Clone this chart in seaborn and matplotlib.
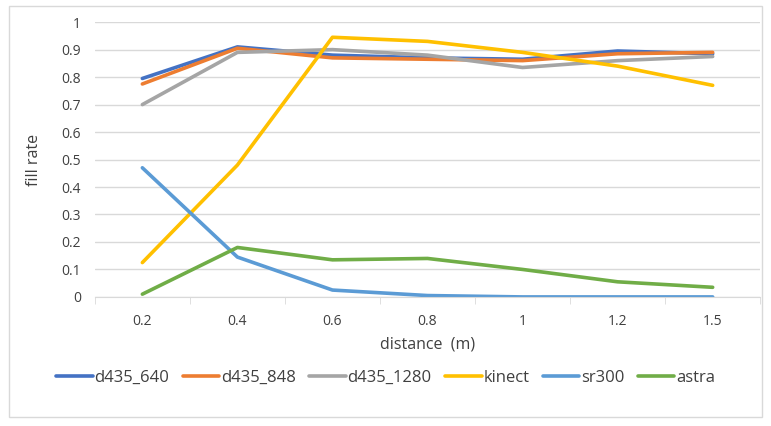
import numpy as np
import pandas as pd
import seaborn as sns
import matplotlib.pyplot as plt
from matplotlib.ticker import FixedLocator

distance = ['0.2', '0.4', '0.6', '0.8', '1', '1.2', '1.5']
d435_640 = [0.795, 0.91, 0.88, 0.87, 0.865, 0.895, 0.885]
d435_848 = [0.775, 0.905, 0.87, 0.865, 0.86, 0.885, 0.89]
d435_1280 = [0.70, 0.89, 0.90, 0.88, 0.835, 0.86, 0.875]
kinect = [0.125, 0.48, 0.945, 0.93, 0.89, 0.84, 0.77]
sr300 = [0.47, 0.145, 0.025, 0.005, 0.0, 0.0, 0.0]
astra = [0.01, 0.18, 0.135, 0.14, 0.10, 0.055, 0.035]

series = {'d435_640': d435_640, 'd435_848': d435_848, 'd435_1280': d435_1280,
          'kinect': kinect, 'sr300': sr300, 'astra': astra}
colors = ['#4472C4', '#ED7D31', '#A5A5A5', '#FFC000', '#5B9BD5', '#70AD47']

data = pd.DataFrame([(d, name, v) for name, vals in series.items()
                     for d, v in zip(distance, vals)],
                    columns=['distance', 'sensor', 'fill'])

sns.set_style('white')
plt.rcParams['font.family'] = ['Open Sans', 'DejaVu Sans']

fig = plt.figure(figsize=(7.71, 4.26), dpi=100)
ax = fig.add_axes([0.123, 0.303, 0.863, 0.645])
sns.lineplot(data=data, x='distance', y='fill', hue='sensor', palette=colors,
             sort=False, linewidth=2.6, ax=ax)

ax.set_xlim(-0.5, len(distance) - 0.5)
ax.set_ylim(0, 1)
ax.set_yticks(np.arange(0, 1.01, 0.1))
ax.set_yticklabels(['0', '0.1', '0.2', '0.3', '0.4', '0.5', '0.6', '0.7', '0.8', '0.9', '1'])
ax.yaxis.grid(True, color='#d9d9d9', linewidth=1)
ax.set_axisbelow(True)
ax.xaxis.set_minor_locator(FixedLocator(np.arange(-0.5, len(distance), 1)))
ax.tick_params(axis='x', which='minor', length=5, color='#d9d9d9', direction='out', bottom=True)
ax.tick_params(axis='x', which='major', length=0, pad=12, labelsize=10, colors='#404040')
ax.tick_params(axis='y', length=0, pad=10, labelsize=10, colors='#404040')
for s in ['top', 'right', 'left']:
    ax.spines[s].set_visible(False)
ax.spines['bottom'].set_color('#d9d9d9')

ax.set_xlabel('distance  (m)', fontsize=11.5, color='#404040', labelpad=6)
ax.set_ylabel('fill rate', fontsize=11.5, color='#404040', labelpad=14)

ax.get_legend().remove()
handles, labels = ax.get_legend_handles_labels()
fig.legend(handles, labels, loc='center', bbox_to_anchor=(0.5, 0.113), ncol=6,
           frameon=False, fontsize=12, handlelength=2.2, handletextpad=0.1,
           columnspacing=0.8, labelcolor='#404040')

fig.patches.append(plt.Rectangle((0.012, 0.02), 0.976, 0.965, transform=fig.transFigure,
                                 fill=False, edgecolor='#d9d9d9', linewidth=1))

fig.savefig('out.png', dpi=100)
